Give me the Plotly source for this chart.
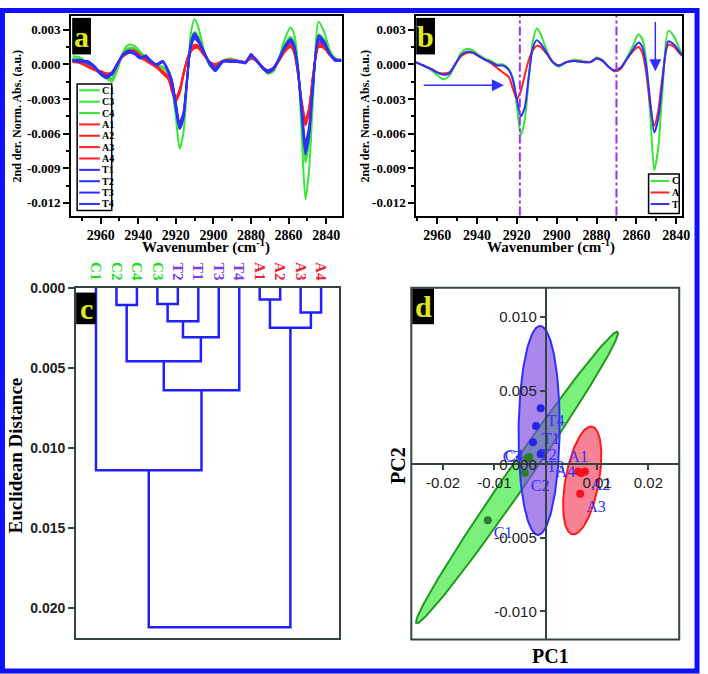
import numpy as np
import plotly.graph_objects as go

W, H = 708, 674

# shared wavenumber grid (cm-1)
wavenumber = [2975, 2971, 2967, 2963, 2960, 2957, 2954, 2951, 2948, 2945, 2942, 2939, 2936,
              2933, 2930, 2927, 2924, 2922, 2920, 2918, 2916, 2914, 2912, 2910, 2908, 2905,
              2902, 2899, 2895, 2891, 2887, 2883, 2880, 2877, 2874, 2871, 2868, 2865, 2862,
              2859, 2857, 2855, 2853, 2851, 2849, 2847, 2844, 2841, 2838, 2835, 2832]

# panel a: individual second-derivative spectra (x 1e-3 a.u.)
c1 = [0.7, 0.6, 0.1, -0.4, -0.8, -1.2, -1.5, -0.4, 1.1, 1.7, 1.6, 1.1, 0.6, 0.3, -0.2, -0.3, -0.8,
      -2.0, -4.5, -7.3, -6.0, -1.6, 2.7, 3.9, 3.2, 1.2, -0.1, -0.4, 0.3, 0.5, 0.3, 0.2, 0.6, 0.3,
      -0.3, -0.8, -0.6, 0.6, 2.2, 3.2, 2.6, 0.0, -6.0, -11.7, -9.0, -3.0, 3.7, 2.8, 1.2, 0.5, 0.4]
c3 = [0.4, 0.4, 0.0, -0.4, -0.8, -1.1, -1.3, -0.3, 1.0, 1.4, 1.4, 0.9, 0.5, 0.2, -0.2, -0.3, -0.7,
      -1.6, -3.6, -5.6, -4.6, -1.2, 2.0, 2.8, 2.4, 1.0, 0.0, -0.3, 0.3, 0.4, 0.3, 0.2, 0.7, 0.4,
      -0.2, -0.7, -0.5, 0.5, 1.7, 2.4, 1.9, -0.2, -4.5, -8.5, -6.6, -2.2, 2.6, 2.1, 1.0, 0.4, 0.3]
c4 = [0.5, 0.5, 0.1, -0.3, -0.7, -1.0, -1.2, -0.2, 1.0, 1.3, 1.3, 0.9, 0.5, 0.2, -0.1, -0.2, -0.6,
      -1.5, -3.5, -5.4, -4.4, -1.1, 1.9, 2.7, 2.3, 1.0, 0.1, -0.2, 0.3, 0.4, 0.3, 0.2, 0.6, 0.4,
      -0.2, -0.6, -0.4, 0.5, 1.6, 2.3, 1.8, -0.2, -4.2, -7.9, -6.2, -2.0, 2.5, 2.0, 1.0, 0.5, 0.4]
a1 = [0.3, 0.2, -0.2, -0.5, -0.7, -0.9, -0.8, 0.1, 0.8, 1.1, 1.1, 0.7, 0.4, 0.1, -0.3, -0.7, -1.2,
      -2.2, -3.1, -2.4, -0.9, 0.4, 1.2, 1.6, 1.5, 0.9, 0.2, 0.0, 0.3, 0.3, 0.3, 0.2, 0.5, 0.3,
      -0.2, -0.6, -0.4, 0.4, 1.2, 1.6, 1.1, -0.8, -3.4, -5.1, -3.9, -1.1, 1.7, 1.5, 0.8, 0.4, 0.3]
a2 = [0.2, 0.1, -0.2, -0.5, -0.6, -0.8, -0.7, 0.1, 0.7, 1.0, 1.0, 0.7, 0.4, 0.1, -0.2, -0.6, -1.1,
      -2.0, -2.8, -2.2, -0.8, 0.4, 1.1, 1.5, 1.4, 0.8, 0.2, 0.0, 0.3, 0.3, 0.2, 0.2, 0.5, 0.3,
      -0.2, -0.5, -0.3, 0.4, 1.1, 1.5, 1.0, -0.8, -3.2, -4.8, -3.7, -1.0, 1.6, 1.4, 0.8, 0.4, 0.3]
a3 = [0.3, 0.2, -0.1, -0.5, -0.8, -1.0, -0.9, 0.0, 0.8, 1.2, 1.2, 0.8, 0.4, 0.1, -0.3, -0.8, -1.3,
      -2.4, -3.2, -2.5, -1.0, 0.4, 1.3, 1.7, 1.6, 0.9, 0.2, -0.1, 0.3, 0.4, 0.3, 0.2, 0.6, 0.3,
      -0.3, -0.7, -0.4, 0.4, 1.3, 1.7, 1.2, -0.8, -3.6, -5.3, -4.1, -1.2, 1.8, 1.6, 0.9, 0.4, 0.3]
a4 = [0.3, 0.2, -0.2, -0.4, -0.6, -0.8, -0.7, 0.1, 0.7, 1.0, 1.0, 0.6, 0.3, 0.0, -0.3, -0.6, -1.1,
      -2.1, -2.9, -2.3, -0.9, 0.3, 1.1, 1.4, 1.4, 0.8, 0.2, 0.0, 0.3, 0.3, 0.3, 0.2, 0.5, 0.3,
      -0.2, -0.6, -0.4, 0.3, 1.1, 1.5, 1.1, -0.7, -3.3, -5.0, -3.8, -1.1, 1.5, 1.4, 0.8, 0.4, 0.3]
t1 = [0.4, 0.2, 0.3, -0.2, -0.8, -1.1, -0.7, 0.1, 0.9, 1.1, 0.9, 0.5, 0.8, 0.2, 0.0, 0.3, -0.6,
      -1.6, -3.6, -5.4, -4.5, -1.3, 1.7, 2.5, 2.1, 1.1, 0.1, -0.5, 0.3, 0.2, 0.3, 0.1, 0.9, 0.3,
      -0.3, -0.6, -0.3, 0.5, 1.5, 2.1, 1.6, -0.4, -4.0, -7.4, -5.8, -1.9, 2.4, 1.9, 0.9, 0.3, 0.4]
t2 = [0.3, 0.3, 0.2, -0.3, -0.9, -1.2, -0.8, 0.0, 0.9, 1.2, 1.0, 0.6, 0.7, 0.3, -0.1, 0.2, -0.7,
      -1.8, -3.9, -5.6, -4.7, -1.4, 1.9, 2.7, 2.2, 1.1, 0.0, -0.6, 0.2, 0.3, 0.2, 0.2, 0.8, 0.4,
      -0.3, -0.7, -0.4, 0.5, 1.6, 2.2, 1.7, -0.5, -4.3, -7.8, -6.1, -2.0, 2.5, 2.0, 0.9, 0.4, 0.3]
t3 = [0.4, 0.3, 0.1, -0.3, -0.7, -1.0, -0.8, 0.1, 0.8, 1.0, 0.9, 0.6, 0.6, 0.2, 0.0, 0.2, -0.5,
      -1.4, -3.3, -5.0, -4.2, -1.2, 1.5, 2.2, 1.9, 1.0, 0.2, -0.3, 0.3, 0.3, 0.2, 0.2, 0.7, 0.3,
      -0.2, -0.5, -0.3, 0.5, 1.4, 1.9, 1.4, -0.4, -3.7, -6.8, -5.3, -1.7, 2.0, 1.7, 0.9, 0.4, 0.3]
t4 = [0.3, 0.4, 0.2, -0.2, -0.8, -1.0, -0.9, 0.0, 0.9, 1.1, 1.0, 0.6, 0.7, 0.2, 0.0, 0.3, -0.6,
      -1.6, -3.5, -5.3, -4.4, -1.3, 1.6, 2.4, 2.0, 1.0, 0.1, -0.4, 0.2, 0.3, 0.3, 0.1, 0.8, 0.3,
      -0.3, -0.6, -0.3, 0.5, 1.5, 2.0, 1.5, -0.5, -3.9, -7.2, -5.6, -1.8, 2.2, 1.8, 0.9, 0.3, 0.4]

# panel b: group mean spectra (x 1e-3 a.u.)
c_mean = [0.4, 0.2, -0.1, -0.5, -0.9, -1.3, -1.0, -0.1, 1.0, 1.35, 1.2, 0.8, 0.5, 0.3, 0.0, 0.0,
          -0.4, -1.3, -3.6, -6.1, -4.8, -1.2, 2.0, 3.1, 2.6, 1.2, 0.2, -0.2, 0.2, 0.4, 0.3, 0.2,
          0.6, 0.4, -0.2, -0.6, -0.4, 0.5, 1.5, 2.6, 2.2, 0.2, -4.5, -9.2, -7.2, -2.5, 2.9, 2.4,
          1.2, 0.5, 0.3]
a_mean = [0.4, 0.2, -0.1, -0.4, -0.7, -0.8, -0.7, 0.0, 0.7, 1.0, 1.0, 0.7, 0.4, 0.1, -0.3, -0.7,
          -1.1, -2.1, -3.0, -2.3, -0.9, 0.4, 1.2, 1.6, 1.5, 0.9, 0.2, -0.1, 0.2, 0.3, 0.2, 0.2,
          0.5, 0.3, -0.2, -0.6, -0.4, 0.4, 1.1, 1.5, 1.0, -0.8, -3.6, -5.3, -4.0, -1.2, 1.7, 1.5,
          0.9, 0.5, 0.3]
t_mean = [0.4, 0.2, -0.1, -0.4, -0.7, -0.9, -0.8, 0.0, 0.8, 1.1, 1.0, 0.7, 0.4, 0.2, -0.1, -0.1,
          -0.5, -1.3, -3.0, -4.5, -3.7, -1.0, 1.4, 2.1, 1.8, 1.0, 0.2, -0.1, 0.2, 0.3, 0.2, 0.2,
          0.5, 0.3, -0.2, -0.5, -0.3, 0.4, 1.2, 1.9, 1.5, -0.2, -3.3, -5.9, -4.7, -1.6, 2.0, 1.7,
          1.0, 0.5, 0.3]
marker_lines = [2918.5, 2870]  # dash-dot guides in b

# panel c: hierarchical clustering (heights x 1e-3)
leaf_labels = ["C1", "C2", "C4", "C3", "T2", "T1", "T3", "T4", "A1", "A2", "A3", "A4"]
merge_left = [1, 3, 8, 10, 13, 14, 16, 12, 19, 0, 21]
merge_right = [2, 4, 9, 11, 5, 15, 6, 18, 7, 20, 17]
merge_height = [1.08, 1.02, 0.74, 1.55, 2.1, 2.5, 3.1, 4.6, 6.4, 11.4, 21.2]

# panel d: PCA scores (x 1e-3)
pc_labels = ["C1", "C2", "C3", "C4", "T1", "T2", "T3", "T4", "A1", "A2", "A3", "A4"]
pc1 = [-11.3, -4.1, -3.6, -3.2, -1.9, -2.5, -1.0, -1.0, 6.3, 7.6, 6.7, 6.9]
pc2 = [-3.8, -0.6, 0.4, 0.5, 2.6, 1.5, 0.7, 3.8, -0.5, -0.5, -2.0, -0.6]
ell_groups = ["C", "T", "A"]
ell_cx = [-5.6, -1.3, 7.1]
ell_cy = [-0.9, 2.3, -1.1]
ell_major = [(19.6, 9.9), (0.2, 7.1), (1.9, 3.66)]
ell_minor = [(1.74, -0.42), (4.0, 0.0), (3.2, -0.21)]

LINE = {"C": "#35e635", "A": "#ff2020", "T": "#2f2fff"}
LEAF = {"C": "#22dd22", "T": "#7b3cf0", "A": "#ee2233"}
ELL_FILL = {"C": "rgba(60,235,60,0.68)", "T": "rgba(125,70,225,0.65)", "A": "rgba(240,40,70,0.58)"}
ELL_LINE = {"C": "#1f9a1f", "T": "#2f2fff", "A": "#ff1a1a"}
DOT = {"C": "#2b7d2b", "T": "#2424e8", "A": "#f01020"}
SERIF = "Liberation Serif"
SANS = "Liberation Sans"


def fx(px):
    return px / W


def fy(py):
    return 1 - py / H


def scaled(vals):
    return [v * 1e-3 for v in vals]


fig = go.Figure()
shapes, annotations = [], []

# ---- panel a
series_a = [("C1", c1), ("C3", c3), ("C4", c4), ("A1", a1), ("A2", a2), ("A3", a3), ("A4", a4),
            ("T1", t1), ("T2", t2), ("T3", t3), ("T4", t4)]
for name, vals in series_a:
    fig.add_trace(go.Scatter(x=wavenumber, y=scaled(vals), mode="lines", xaxis="x", yaxis="y",
                             line=dict(color=LINE[name[0]], width=2, shape="spline", smoothing=0.7),
                             showlegend=False, hoverinfo="skip"))

# ---- panel b
series_b = [("C", c_mean), ("A", a_mean), ("T", t_mean)]
for name, vals in series_b:
    fig.add_trace(go.Scatter(x=wavenumber, y=scaled(vals), mode="lines", xaxis="x2", yaxis="y2",
                             line=dict(color=LINE[name], width=2, shape="spline", smoothing=0.7),
                             showlegend=False, hoverinfo="skip"))
for wv in marker_lines:
    shapes.append(dict(type="line", xref="x2", yref="y2 domain", x0=wv, x1=wv, y0=0, y1=1,
                       line=dict(color="#9b30f0", width=2, dash="dashdot")))
annotations.append(dict(xref="x2", yref="y2", axref="x2", ayref="y2", x=2926.5, y=-0.0018,
                        ax=2967.5, ay=-0.0018, showarrow=True, arrowhead=2, arrowsize=1.6,
                        arrowwidth=1.5, arrowcolor="#2f2fff", text=""))
annotations.append(dict(xref="x2", yref="y2", axref="x2", ayref="y2", x=2850.5, y=-0.0006,
                        ax=2850.5, ay=0.0038, showarrow=True, arrowhead=2, arrowsize=1.6,
                        arrowwidth=1.5, arrowcolor="#2f2fff", text=""))

# ---- panel c: dendrogram segments from merge table
pos = {i: i + 1 for i in range(len(leaf_labels))}
hgt = {i: 0.0 for i in range(len(leaf_labels))}
dx, dy = [], []
for k, (l, r, h) in enumerate(zip(merge_left, merge_right, merge_height)):
    h = h * 1e-3
    dx += [pos[l], pos[l], pos[r], pos[r], None]
    dy += [hgt[l], h, h, hgt[r], None]
    new = len(leaf_labels) + k
    pos[new] = (pos[l] + pos[r]) / 2
    hgt[new] = h
fig.add_trace(go.Scatter(x=dx, y=dy, mode="lines", xaxis="x3", yaxis="y3",
                         line=dict(color="#1f1fff", width=2.5), showlegend=False, hoverinfo="skip"))

# ---- panel d
for g, cx, cy, (ux, uy), (vx, vy) in zip(ell_groups, ell_cx, ell_cy, ell_major, ell_minor):
    t = np.linspace(0, 2 * np.pi, 181)
    ex = (cx + ux * np.cos(t) + vx * np.sin(t)) * 1e-3
    ey = (cy + uy * np.cos(t) + vy * np.sin(t)) * 1e-3
    fig.add_trace(go.Scatter(x=ex, y=ey, mode="lines", fill="toself", fillcolor=ELL_FILL[g],
                             line=dict(color=ELL_LINE[g], width=2), xaxis="x4", yaxis="y4",
                             showlegend=False, hoverinfo="skip"))
label_pos = {"A1": "top center", "A4": "middle left", "C3": "middle left", "C4": "middle left"}
fig.add_trace(go.Scatter(
    x=scaled(pc1), y=scaled(pc2), mode="markers+text", xaxis="x4", yaxis="y4",
    marker=dict(size=8, color=[DOT[s[0]] for s in pc_labels]),
    text=pc_labels, textposition=[label_pos.get(s, "bottom right") for s in pc_labels],
    textfont=dict(family=SERIF, size=16, color="#2f2fff"),
    showlegend=False, hoverinfo="skip"))

# ---- layout geometry (pixel boxes)
A_BOX = (72, 8, 346, 210)
B_BOX = (421, 8, 690, 210)
C_BOX = (77, 283, 343, 638)
D_BOX = (416, 283, 687, 639)


def dom(box):
    x0, y0, x1, y1 = box
    return [fx(x0), fx(x1)], [fy(y1), fy(y0)]


tick_font = dict(family=SERIF, size=13, color="black", weight="bold")
spec_y = dict(range=[-0.0131, 0.0042], tickvals=[0.003, 0.0, -0.003, -0.006, -0.009, -0.012],
              ticktext=["0.003", "0.000", "-0.003", "-0.006", "-0.009", "-0.012"],
              ticks="outside", ticklen=6, tickwidth=1.5, tickcolor="black",
              minor=dict(ticks="outside", ticklen=3, dtick=0.0015, tick0=0, tickcolor="black"),
              showline=True, mirror=True, linecolor="black", linewidth=2,
              showgrid=False, zeroline=False, tickfont=tick_font)
spec_x = dict(tickvals=[2960, 2940, 2920, 2900, 2880, 2860, 2840],
              ticks="outside", ticklen=6, tickwidth=1.5, tickcolor="black",
              minor=dict(ticks="outside", ticklen=3, dtick=10, tick0=2960, tickcolor="black"),
              showline=True, mirror=True, linecolor="black", linewidth=2,
              showgrid=False, zeroline=False, tickfont=dict(family=SERIF, size=14, color="black", weight="bold"))

xa, ya = dom(A_BOX)
xb, yb = dom(B_BOX)
xc, yc = dom(C_BOX)
xd, yd = dom(D_BOX)

d_xrange = [-0.0262, 0.026]
d_yrange = [-0.0119, 0.012]
x_zero = xd[0] + (0 - d_xrange[0]) / (d_xrange[1] - d_xrange[0]) * (xd[1] - xd[0])
y_zero = yd[0] + (0 - d_yrange[0]) / (d_yrange[1] - d_yrange[0]) * (yd[1] - yd[0])

frame_c = "#344444"
fig.update_layout(
    width=W, height=H, margin=dict(l=0, r=0, t=0, b=0),
    paper_bgcolor="white", plot_bgcolor="white",
    xaxis=dict(domain=xa, anchor="y", range=[2975.7, 2831.5], **spec_x),
    yaxis=dict(domain=ya, anchor="x", **spec_y),
    xaxis2=dict(domain=xb, anchor="y2", range=[2970.5, 2837], **spec_x),
    yaxis2=dict(domain=yb, anchor="x2", **spec_y),
    xaxis3=dict(domain=xc, anchor="y3", range=[0.03, 12.88], side="top",
                tickvals=list(range(1, len(leaf_labels) + 1)),
                ticktext=[f"<span style='color:{LEAF[s[0]]}'>{s}</span>" for s in leaf_labels],
                tickangle=90, ticks="", showline=True, mirror=True, linecolor=frame_c,
                linewidth=2, showgrid=False, zeroline=False,
                tickfont=dict(family=SERIF, size=15, weight="bold")),
    yaxis3=dict(domain=yc, anchor="x3", range=[0.0219, 0],
                tickvals=[0, 0.005, 0.01, 0.015, 0.02],
                ticktext=["0.000", "0.005", "0.010", "0.015", "0.020"],
                ticks="outside", ticklen=6, tickwidth=2, tickcolor=frame_c,
                showline=True, mirror=True, linecolor=frame_c, linewidth=2,
                showgrid=False, zeroline=False,
                tickfont=dict(family=SANS, size=14, color="#222222", weight="bold")),
    xaxis4=dict(domain=xd, anchor="free", position=y_zero, range=d_xrange,
                tickvals=[-0.02, -0.01, 0.01, 0.02], ticktext=["-0.02", "-0.01", "0.01", "0.02"],
                ticks="outside", ticklen=5, tickwidth=2, tickcolor=frame_c,
                showline=True, linecolor=frame_c, linewidth=2, showgrid=False, zeroline=False,
                tickfont=dict(family=SANS, size=15, color="#222222")),
    yaxis4=dict(domain=yd, anchor="free", position=x_zero, range=d_yrange,
                tickvals=[-0.01, -0.005, 0, 0.005, 0.01],
                ticktext=["-0.010", "-0.005", "0.000", "0.005", "0.010"],
                ticks="outside", ticklen=5, tickwidth=2, tickcolor=frame_c,
                showline=True, linecolor=frame_c, linewidth=2, showgrid=False, zeroline=False,
                tickfont=dict(family=SANS, size=15, color="#222222")),
)

# panel d frame
shapes.append(dict(type="rect", xref="paper", yref="paper", x0=xd[0], x1=xd[1], y0=yd[0], y1=yd[1],
                   line=dict(color=frame_c, width=2)))

# legend of panel a (drawn by hand to keep the compact Origin look)
names_a = [n for n, _ in series_a]
shapes.append(dict(type="rect", xref="paper", yref="paper", x0=fx(78), x1=fx(113), y0=fy(205),
                   y1=fy(77), line=dict(color="black", width=1.5), fillcolor="white"))
for i, n in enumerate(names_a):
    yy = 83.3 + i * 11.5
    shapes.append(dict(type="line", xref="paper", yref="paper", x0=fx(80), x1=fx(101),
                       y0=fy(yy), y1=fy(yy), line=dict(color=LINE[n[0]], width=2)))
    annotations.append(dict(xref="paper", yref="paper", x=fx(101.5), y=fy(yy), text=n,
                            showarrow=False, xanchor="left", yanchor="middle",
                            font=dict(family=SERIF, size=10, color="black", weight="bold")))

# legend of panel b
shapes.append(dict(type="rect", xref="paper", yref="paper", x0=fx(656), x1=fx(687), y0=fy(208),
                   y1=fy(168), line=dict(color="black", width=1.5), fillcolor="white"))
for i, (n, _) in enumerate(series_b):
    yy = 175 + i * 11.7
    shapes.append(dict(type="line", xref="paper", yref="paper", x0=fx(658), x1=fx(677),
                       y0=fy(yy), y1=fy(yy), line=dict(color=LINE[n], width=2)))
    annotations.append(dict(xref="paper", yref="paper", x=fx(677.5), y=fy(yy), text=n,
                            showarrow=False, xanchor="left", yanchor="middle",
                            font=dict(family=SERIF, size=10, color="black", weight="bold")))

# panel tags
for (x0, y0, x1, y1), letter in [((73, 10, 92, 47), "a"), ((421, 10, 440, 47), "b"),
                                 ((77, 288, 97, 320), "c"), ((417, 284, 439, 320), "d")]:
    shapes.append(dict(type="rect", xref="paper", yref="paper", x0=fx(x0), x1=fx(x1),
                       y0=fy(y1), y1=fy(y0), line=dict(width=0), fillcolor="black"))
    annotations.append(dict(xref="paper", yref="paper", x=fx((x0 + x1) / 2), y=fy((y0 + y1) / 2),
                            text=letter, showarrow=False, xanchor="center", yanchor="middle",
                            font=dict(family=SERIF, size=30, color="#dfe81c", weight="bold")))

# axis titles
title_font = dict(family=SERIF, color="black", weight="bold")
for xc_, yc_, txt, size, ang in [
    (17, 109, "2nd der. Norm. Abs. (a.u.)", 12, -90),
    (369, 109, "2nd der. Norm. Abs. (a.u.)", 12, -90),
    (208, 241, "Wavenumber (cm<sup>-1</sup>)", 15, 0),
    (557, 241, "Wavenumber (cm<sup>-1</sup>)", 15, 0),
    (16, 453, "Euclidean Distance", 19, -90),
    (557, 656, "PC1", 20, 0),
    (402, 463, "PC2", 20, -90),
]:
    annotations.append(dict(xref="paper", yref="paper", x=fx(xc_), y=fy(yc_), text=txt,
                            showarrow=False, textangle=ang, xanchor="center", yanchor="middle",
                            font=dict(size=size, **title_font)))

# outer blue frame
shapes.append(dict(type="rect", xref="paper", yref="paper", x0=fx(2.5), x1=fx(W - 3), y0=fy(H - 3),
                   y1=fy(2.5), line=dict(color="#1010ff", width=5)))

fig.update_layout(shapes=shapes, annotations=annotations)
fig.write_html("out.html", config={"displayModeBar": False},
               post_script="document.body.style.margin='0px';"
                           "document.body.style.overflow='hidden';")
